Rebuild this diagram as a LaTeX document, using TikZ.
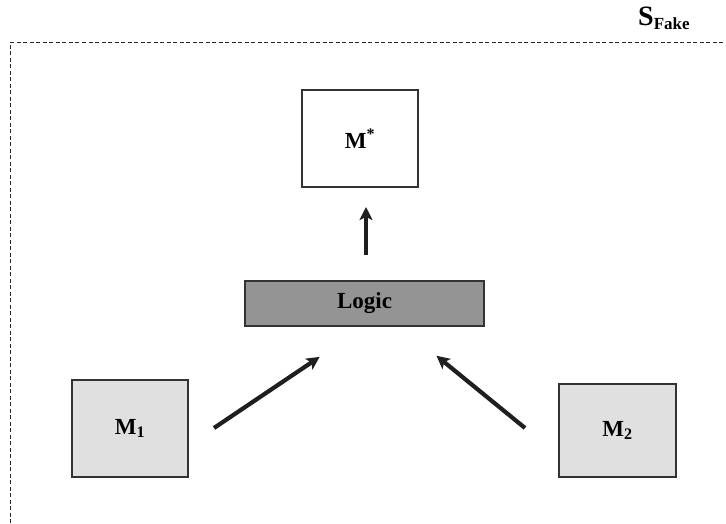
\documentclass[tikz,border=0pt]{standalone}
\usepackage{fontspec}
\setmainfont{Liberation Serif}
\usetikzlibrary{arrows.meta}
\begin{document}
\begin{tikzpicture}[x=1pt,y=-1pt,
  box/.style={draw=black!80,line width=1.2pt,inner sep=0pt,font=\fontsize{23}{26}\selectfont\bfseries},
  flow/.style={line width=4.2pt,color=black!88,-{Stealth[length=13pt,width=13pt,inset=3pt]},shorten >=-2pt}]
\useasboundingbox (0,0) rectangle (726,523);
\draw[black!85,line width=1pt,dash pattern=on 4pt off 2.5pt] (10,523) -- (10,42.5) -- (726,42.5);
\node[inner sep=0pt,anchor=base west] (sf) at (638,25) {\fontsize{28}{30}\selectfont\bfseries S\raisebox{-4pt}{\fontsize{17}{19}\selectfont Fake}};
\node[box,fill=white,minimum width=116pt,minimum height=97pt] (ms) at (360,138.5) {M\textsuperscript{*}};
\node[box,fill=black!42,minimum width=239pt,minimum height=45pt] (logic) at (364.5,303.5) {Logic};
\node[box,fill=black!12,minimum width=116pt,minimum height=97pt] (m1) at (130,428.5) {M\textsubscript{1}};
\node[box,fill=black!12,minimum width=117pt,minimum height=93pt] (m2) at (617.5,430.5) {M\textsubscript{2}};
\coordinate (a0) at (366,255);
\coordinate (a1) at (366,209);
\coordinate (b0) at (214,428);
\coordinate (b1) at (318,358);
\coordinate (c0) at (525,428);
\coordinate (c1) at (438,357);
\draw[flow] (a0) -- (a1);
\draw[flow] (b0) -- (b1);
\draw[flow] (c0) -- (c1);
\end{tikzpicture}
\end{document}
